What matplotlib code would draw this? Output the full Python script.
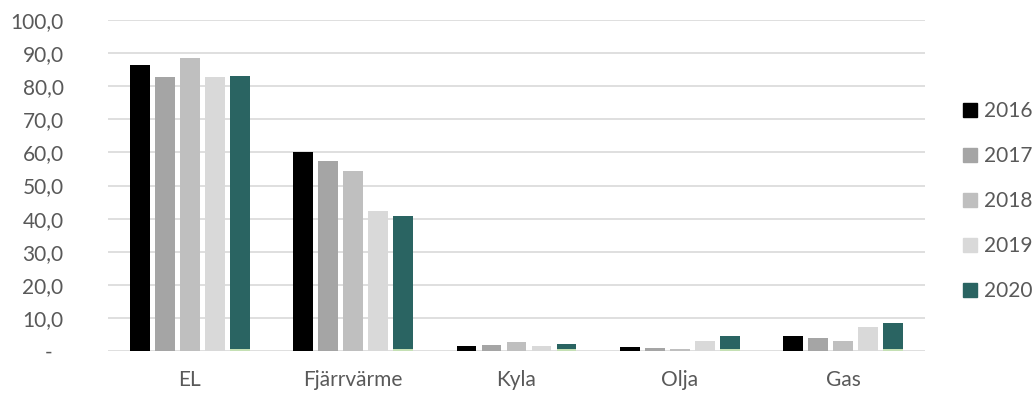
import numpy as np
import matplotlib.pyplot as plt
from matplotlib.patches import Patch

plt.rcParams['font.family'] = ['Lato', 'DejaVu Sans']

# Data
categories = ['EL', 'Fjärrvärme', 'Kyla', 'Olja', 'Gas']
years = ['2016', '2017', '2018', '2019', '2020']
v2016 = [86.4, 60.0, 1.6, 1.2, 4.4]
v2017 = [82.8, 57.4, 1.9, 0.8, 3.8]
v2018 = [88.5, 54.5, 2.7, 0.5, 3.0]
v2019 = [82.9, 42.4, 1.4, 2.9, 7.2]
v2020 = [83.2, 40.8, 2.0, 4.4, 8.5]
v_extra = [0.5, 0.5, 0.5, 0.5, 0.5]
yticks = [0, 10, 20, 30, 40, 50, 60, 70, 80, 90, 100]

series = [v2016, v2017, v2018, v2019, v2020]
colors = ['#000000', '#a5a5a5', '#bfbfbf', '#d9d9d9', '#2a6462']
text_col = '#595959'

fig = plt.figure(figsize=(10.35, 3.99), dpi=100)
ax = fig.add_axes([108/1035, 1 - 351/399, 817/1035, 331/399])

x = np.arange(len(categories))
step = 0.153
width = 0.122
for i, (vals, col) in enumerate(zip(series, colors)):
    ax.bar(x + (i - 2) * step, vals, width, color=col, zorder=3)
# thin light green series at the foot of the 2020 bars
ax.bar(x + 2 * step, v_extra, width, color='#c5e0b4', zorder=4)

for t in yticks:
    ax.axhline(t, color='#d9d9d9', lw=1.2, zorder=1)

ax.set_xlim(-0.5, 4.5)
ax.set_ylim(0, 100)
ax.set_yticks(yticks)
ax.set_yticklabels(['-  ' if t == 0 else f'{t:.1f}'.replace('.', ',') for t in yticks])
ax.set_xticks(x)
ax.set_xticklabels(categories)
ax.tick_params(axis='y', length=0, pad=32, labelsize=15, labelcolor=text_col)
ax.tick_params(axis='x', length=0, pad=14, labelsize=15, labelcolor=text_col)
for s in ax.spines.values():
    s.set_visible(False)

handles = [Patch(color=c, label=y) for c, y in zip(colors, years)]
fig.legend(handles=handles, loc='center left', bbox_to_anchor=(0.912, 0.496),
           frameon=False, fontsize=15, labelcolor=text_col,
           handlelength=0.7, handleheight=0.7, handletextpad=0.3,
           labelspacing=1.2)

fig.savefig('out.png', dpi=100)
